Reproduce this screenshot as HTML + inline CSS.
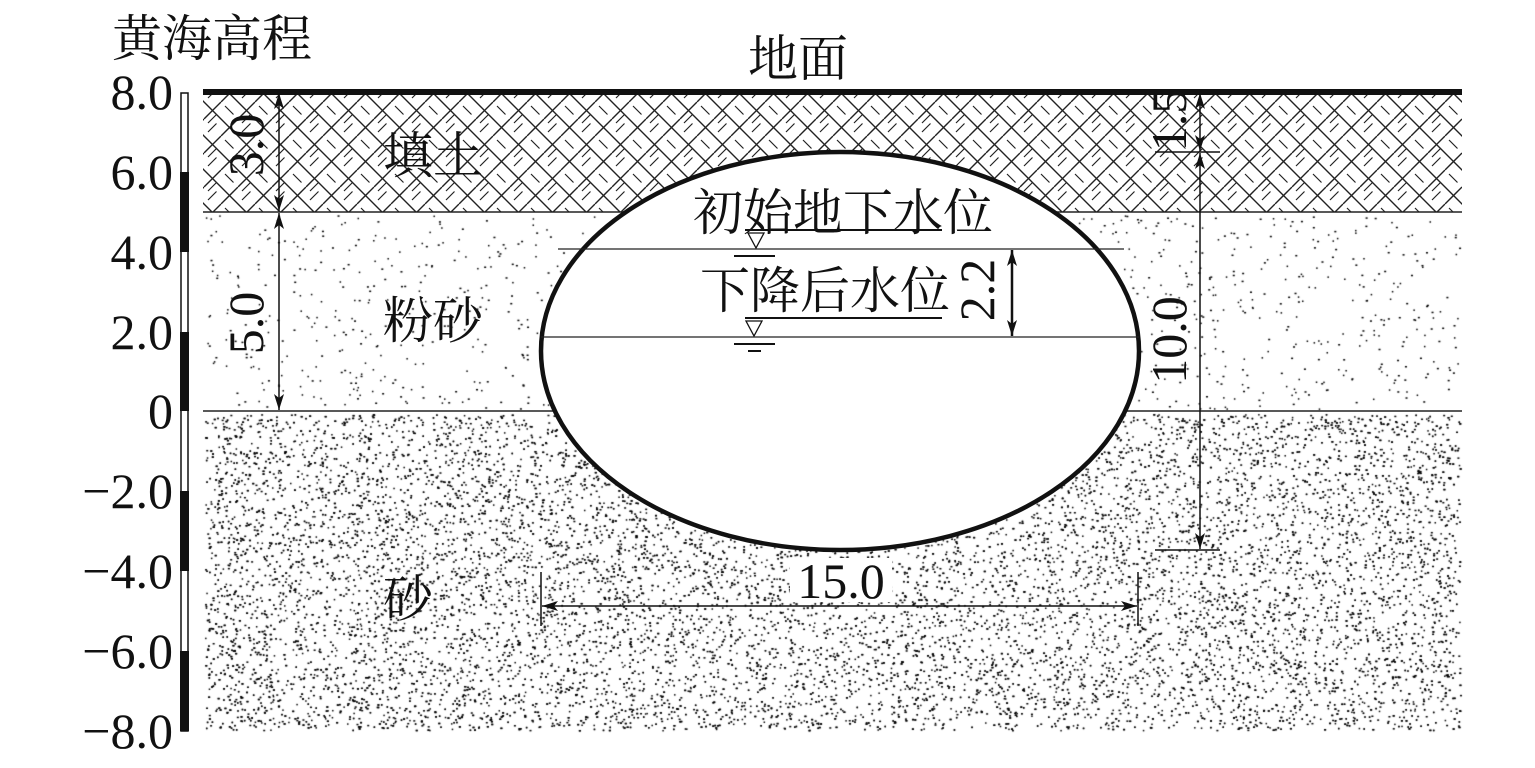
<!DOCTYPE html>
<html><head><meta charset="utf-8">
<style>
html,body{margin:0;padding:0;background:#fff;}
#w{position:relative;width:1535px;height:768px;overflow:hidden;}
canvas,svg{position:absolute;left:0;top:0;}
svg text{font-family:"Liberation Serif","Noto Serif CJK SC",serif;}
</style></head><body><div id="w">
<canvas id="c" width="1535" height="768"></canvas>
<svg width="1535" height="768" viewBox="0 0 1535 768" xmlns="http://www.w3.org/2000/svg">
<defs>
<pattern id="hb" width="34" height="34" patternUnits="userSpaceOnUse">
<path d="M0 17 L17 0 M17 34 L34 17 M8.5 8.5 L25.5 25.5 M-8.5 25.5 L8.5 42.5 M25.5 -8.5 L42.5 8.5 M0 0 L8.5 8.5 M25.5 25.5 L34 34" stroke="#222" stroke-width="1.4" fill="none"/>
<path d="M4 21 L12.5 12.5 M21 4 L29.5 12.5 M21 30 L29.5 21.5 M4 30 L12.5 21.5" stroke="#222" stroke-width="1.2" fill="none"/>
</pattern>
<marker id="b" viewBox="0 0 16 10" refX="16" refY="5" markerWidth="16" markerHeight="10" markerUnits="userSpaceOnUse" orient="auto-start-reverse"><path d="M0 0 L16 5 L0 10 L4 5Z" fill="#111"/></marker>
</defs>
<rect x="203" y="92" width="1259" height="120" fill="url(#hb)"/>
<line x1="203" y1="92" x2="1462" y2="92" stroke="#111" stroke-width="6"/>
<line x1="203" y1="212" x2="1462" y2="212" stroke="#222" stroke-width="1.5"/>
<line x1="203" y1="411" x2="1462" y2="411" stroke="#222" stroke-width="1.5"/>
<ellipse cx="840" cy="351" rx="299" ry="199" fill="#fff" stroke="#111" stroke-width="4.5"/>
<line x1="558" y1="249" x2="1124" y2="249" stroke="#222" stroke-width="1.3"/>
<line x1="541" y1="337" x2="1139" y2="337" stroke="#222" stroke-width="1.3"/>
<rect x="181" y="93" width="7" height="638" fill="#fff" stroke="#111" stroke-width="1.5"/>
<rect x="180" y="172" width="9" height="80" fill="#111"/>
<rect x="180" y="332" width="9" height="79" fill="#111"/>
<rect x="180" y="491" width="9" height="80" fill="#111"/>
<rect x="180" y="651" width="9" height="80" fill="#111"/>
<g font-size="50" fill="#111" text-anchor="end">
<text x="173" y="109">8.0</text><text x="173" y="189">6.0</text><text x="173" y="269">4.0</text>
<text x="173" y="349">2.0</text><text x="173" y="428">0</text><text x="173" y="508">−2.0</text>
<text x="173" y="588">−4.0</text><text x="173" y="668">−6.0</text><text x="173" y="748">−8.0</text>
</g>
<g font-size="50" fill="#111">
<text x="112" y="56">黄海高程</text>
<text x="748" y="76">地面</text>
<text x="383" y="173">填土</text>
<text x="383" y="338">粉砂</text>
<text x="383" y="616">砂</text>
<text x="693" y="230">初始地下水位</text>
<text x="700" y="308">下降后水位</text>
</g>
<g stroke="#111" stroke-width="2" fill="#fff">
<line x1="745" y1="230" x2="942" y2="230"/>
<path d="M748 233 L764 233 L756 248Z" stroke-width="1.3"/>
<line x1="734" y1="256" x2="775" y2="256"/>
<line x1="745" y1="318" x2="942" y2="318"/>
<path d="M746 321 L762 321 L754 336Z" stroke-width="1.3"/>
<line x1="734" y1="344" x2="775" y2="344"/>
<line x1="748" y1="351" x2="761" y2="351"/>
</g>
<g stroke="#111" stroke-width="1.5">
<line x1="279" y1="93" x2="279" y2="211" marker-start="url(#b)" marker-end="url(#b)"/>
<line x1="279" y1="213" x2="279" y2="410" marker-start="url(#b)" marker-end="url(#b)"/>
<line x1="1012" y1="250" x2="1012" y2="336" stroke-width="2.5" marker-start="url(#b)" marker-end="url(#b)"/>
<line x1="1200" y1="93" x2="1200" y2="151" marker-start="url(#b)" marker-end="url(#b)"/>
<line x1="1200" y1="153" x2="1200" y2="549" marker-start="url(#b)" marker-end="url(#b)"/>
<line x1="1155" y1="152" x2="1220" y2="152"/>
<line x1="1155" y1="550" x2="1220" y2="550"/>
<line x1="541" y1="572" x2="541" y2="626"/>
<line x1="1138" y1="572" x2="1138" y2="626"/>
<line x1="542" y1="606" x2="1137" y2="606" marker-start="url(#b)" marker-end="url(#b)"/>
</g>
<rect x="790" y="558" width="102" height="44" fill="#fff"/>
<g font-size="50" fill="#111" text-anchor="middle">
<text x="841" y="598">15.0</text>
<text transform="translate(263,145) rotate(-90)">3.0</text>
<text transform="translate(263,323) rotate(-90)">5.0</text>
<text transform="translate(994,290) rotate(-90)">2.2</text>
<text transform="translate(1186,120) rotate(-90)">1.5</text>
<text transform="translate(1186,340) rotate(-90)">10.0</text>
</g>
</svg>
<script>
var c=document.getElementById('c').getContext('2d');
var s=12345;function r(){s=(s*1103515245+12345)%2147483648;return s/2147483648;}
c.fillStyle='#000';
for(var i=0;i<1300;i++){var x=205+r()*1255,y=215+r()*194;c.fillRect(x,y,r()<.5?1.5:2,1.5);}
for(var i=0;i<18000;i++){var x=205+r()*1255,y=414+r()*316;c.fillRect(x,y,r()<.5?1.5:2,1.5);}
</script>
</div></body></html>
